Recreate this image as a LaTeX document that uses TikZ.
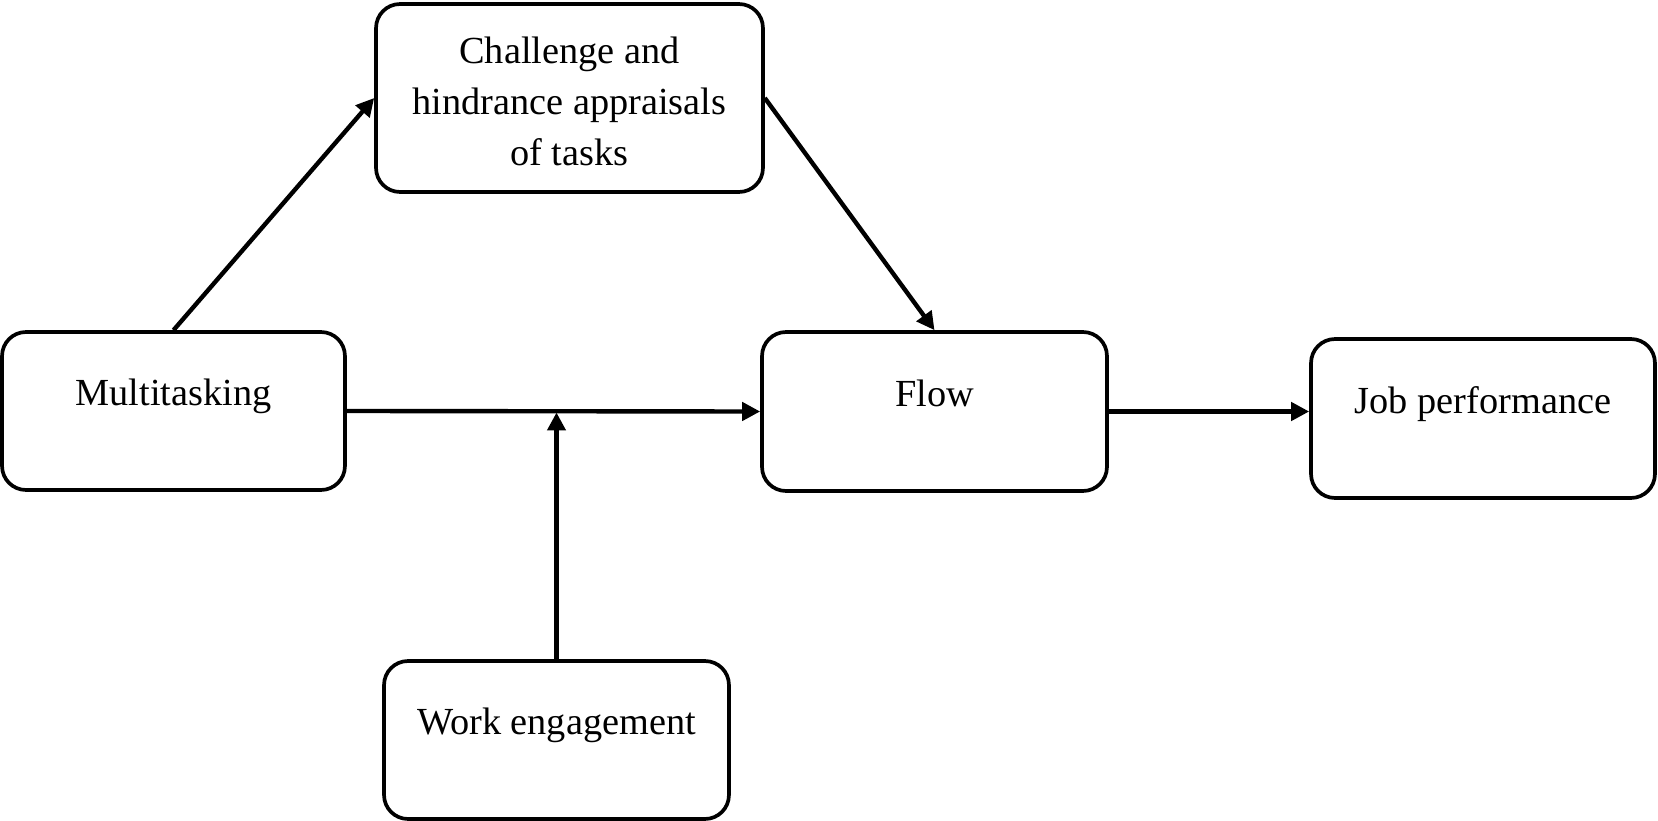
\documentclass[tikz,border=0pt]{standalone}
\usepackage{fontspec}
\setmainfont{Liberation Serif}
\usetikzlibrary{arrows.meta,calc}
\begin{document}
\begin{tikzpicture}[x=0.02cm,y=-0.02cm,
  box/.style={draw,line width=2.1pt,rounded corners=0.48cm,inner sep=0pt},
  lbl/.style={font=\fontsize{21.8}{29}\selectfont,inner sep=0pt,align=center},
  arr/.style={line width=2.5pt,-{Triangle[length=0.36cm,width=0.36cm]}}]
\useasboundingbox (0,0) rectangle (1658,821);
\node[box,minimum width=7.74cm,minimum height=3.76cm] (chal) at (569.5,98) {};
\node[box,minimum width=6.86cm,minimum height=3.16cm] (multi) at (173.5,411) {};
\node[box,minimum width=6.9cm,minimum height=3.18cm] (flow) at (934.5,411.5) {};
\node[box,minimum width=6.88cm,minimum height=3.18cm] (job) at (1483,418.5) {};
\node[box,minimum width=6.9cm,minimum height=3.16cm] (work) at (556.5,740) {};
\node[lbl] (tchal) at ($(chal.center)+(0,3)$) {Challenge and\\hindrance appraisals\\of tasks};
\node[lbl,anchor=base] (tmulti) at ($(multi.center)+(0,-5.5)$) {Multitasking};
\node[lbl,anchor=base] (tflow) at ($(flow.center)+(0,-5.5)$) {Flow};
\node[lbl,anchor=base] (tjob) at ($(job.center)+(0,-5.5)$) {Job performance};
\node[lbl,anchor=base] (twork) at ($(work.center)+(0,-5.5)$) {Work engagement};
\draw[arr] (multi.north) -- (chal.west);
\draw[arr] (chal.east) -- (flow.north);
\draw[arr] (multi.east) -- (flow.west);
\draw[arr,shorten >=0.03cm] (work.north) -- (work.north |- multi.east);
\draw[arr] (flow.east) -- (flow.east -| job.west);
\end{tikzpicture}
\end{document}
